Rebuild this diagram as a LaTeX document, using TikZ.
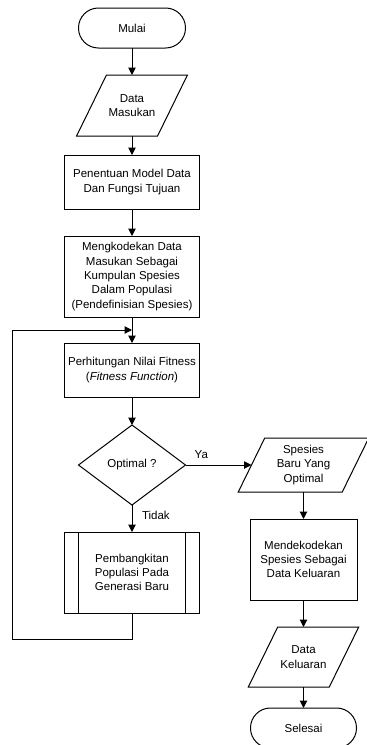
\documentclass[tikz,border=0pt]{standalone}
\usepackage{fontspec}
\setmainfont{Liberation Sans}
\usepackage{tikz}
\usetikzlibrary{shapes.geometric, positioning, arrows.meta}

\begin{document}
\begin{tikzpicture}[->,>={Triangle[width=7.5pt,length=7.5pt]},auto,line width=1pt,
    x=1pt,y=-1pt,font=\fontsize{11.5}{14.3}\selectfont,outer sep=0pt,
    term/.style={draw,rectangle,rounded corners=19.9pt,minimum width=107pt,minimum height=40pt},
    io/.style 2 args={rectangle,minimum width=#1,minimum height=#2,inner sep=2pt,align=center,
      append after command={\pgfextra{\let\ionode=\tikzlastnode
        \draw[-] ([xshift={0.245*#2}]\ionode.north west) -- ([xshift={0.245*#2}]\ionode.north east)
          -- ([xshift={-0.245*#2}]\ionode.south east) -- ([xshift={-0.245*#2}]\ionode.south west) -- cycle;}}},
    proc/.style={draw,rectangle,minimum width=135pt,minimum height=54pt,align=center},
    subproc/.style={proc,minimum height=81pt,
      path picture={\draw[-] ([xshift=14pt]path picture bounding box.north west) -- ([xshift=14pt]path picture bounding box.south west)
        ([xshift=-14pt]path picture bounding box.north east) -- ([xshift=-14pt]path picture bounding box.south east);}},
    decision/.style={draw,diamond,minimum width=107pt,minimum height=80pt,inner sep=0pt}]
    \useasboundingbox (0,0) rectangle (367,745);

    \node[term] (mulai) at (132,28) {Mulai};
    \node[io={81pt}{61pt}] (masuk) [below=27pt of mulai] {Data\\Masukan};
    \node[proc] (model) [below=19pt of masuk] {Penentuan Model Data\\Dan Fungsi Tujuan};
    \node[proc,minimum height=81pt] (kode) [below=27pt of model] {Mengkodekan Data\\Masukan Sebagai\\Kumpulan Spesies\\Dalam Populasi\\(Pendefinisian Spesies)};
    \node[proc] (fitness) [below=26pt of kode] {Perhitungan Nilai Fitness\\(\textit{Fitness Function})};
    \node[decision] (opt) [below=28pt of fitness] {Optimal ?};
    \node[subproc] (bangkit) [below=27pt of opt] {Pembangkitan\\Populasi Pada\\Generasi Baru};
    \node[io={104pt}{54pt}] (spesies) [right=66pt of opt] {Spesies\\Baru Yang\\Optimal};
    \node[proc,minimum width=107pt,minimum height=81pt] (dekode) [below=27pt of spesies] {Mendekodekan\\Spesies Sebagai\\Data Keluaran};
    \node[io={81pt}{60pt}] (keluar) [below=27pt of dekode] {Data\\Keluaran};
    \node[term,minimum width=106pt] (selesai) [below=21pt of keluar] {Selesai};

    \coordinate[below=13pt of kode] (join);
    \coordinate (balik) at (12,639);

    \path (mulai) edge (masuk)
          (masuk) edge (model)
          (model) edge (kode)
          (kode) edge (fitness)
          (fitness) edge (opt)
          (opt) edge node[pos=0.24,yshift=3pt,inner sep=3pt] {Ya} (spesies)
          (opt) edge node[xshift=7pt,yshift=3pt,inner sep=3pt] {Tidak} (bangkit)
          (spesies) edge (dekode)
          (dekode) edge (keluar)
          (keluar) edge (selesai);
    \draw (bangkit) |- (balik) |- (join);
\end{tikzpicture}
\end{document}
